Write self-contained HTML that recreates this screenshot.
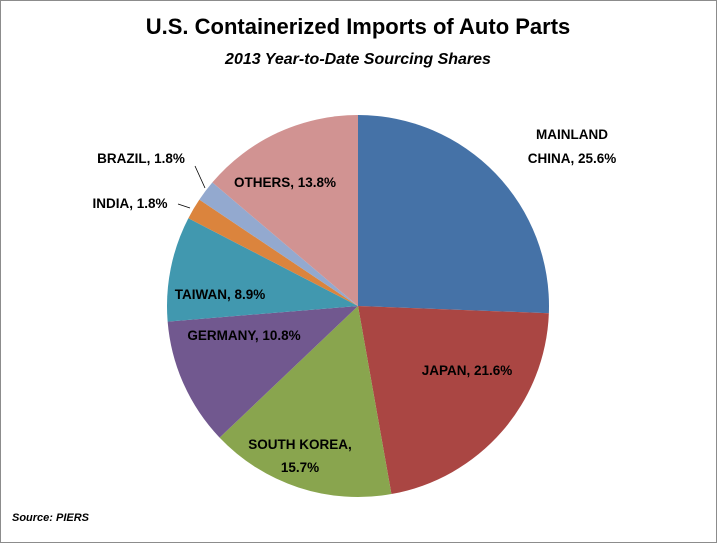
<!DOCTYPE html>
<html><head><meta charset="utf-8"><style>
body{margin:0;background:#fff;}
#c{position:relative;width:717px;height:543px;overflow:hidden;}
svg{position:absolute;left:0;top:0;}
text{font-family:"Liberation Sans",sans-serif;font-weight:bold;}
</style></head><body><div id="c">
<svg id="s" width="717" height="543" viewBox="0 0 717 543">
<rect x="0.5" y="0.5" width="716" height="542" fill="#fff" stroke="#8c8c8c"/>
<g id="pie"></g>
<text x="358" y="34" text-anchor="middle" font-size="22" fill="#000">U.S. Containerized Imports of Auto Parts</text>
<text x="358" y="64" text-anchor="middle" font-size="16" font-style="italic" fill="#000">2013 Year-to-Date  Sourcing Shares</text>
<g font-size="13.5" fill="#000" text-anchor="middle">
<text x="572" y="139">MAINLAND</text>
<text x="572" y="163">CHINA, 25.6%</text>
<text x="467" y="375">JAPAN, 21.6%</text>
<text x="300" y="449">SOUTH KOREA,</text>
<text x="300" y="472">15.7%</text>
<text x="244" y="340">GERMANY, 10.8%</text>
<text x="220" y="299">TAIWAN, 8.9%</text>
<text x="130" y="208">INDIA, 1.8%</text>
<text x="141" y="163">BRAZIL, 1.8%</text>
<text x="285" y="187">OTHERS, 13.8%</text>
</g>
<line x1="178" y1="204" x2="190" y2="208" stroke="#000" stroke-width="0.8"/>
<line x1="195" y1="166" x2="205" y2="188" stroke="#000" stroke-width="0.8"/>
<text x="12" y="521" font-size="11" font-style="italic" font-weight="normal" fill="#000">Source: PIERS</text>
</svg>
<script>
var d=[[25.6,"#4572A7"],[21.6,"#AA4643"],[15.7,"#89A54E"],[10.8,"#71588F"],[8.9,"#4198AF"],[1.8,"#DB843D"],[1.8,"#93A9CF"],[13.8,"#D19392"]];
var cx=358,cy=306,r=191,a=0,g=document.getElementById("pie"),h="";
d.forEach(function(s){var a2=a+s[0]/100*2*Math.PI;
var x1=cx+r*Math.sin(a),y1=cy-r*Math.cos(a),x2=cx+r*Math.sin(a2),y2=cy-r*Math.cos(a2);
h+='<path d="M'+cx+','+cy+' L'+x1+','+y1+' A'+r+','+r+' 0 '+(a2-a>Math.PI?1:0)+' 1 '+x2+','+y2+' Z" fill="'+s[1]+'"/>';a=a2;});
g.innerHTML=h;
</script>
</div></body></html>
